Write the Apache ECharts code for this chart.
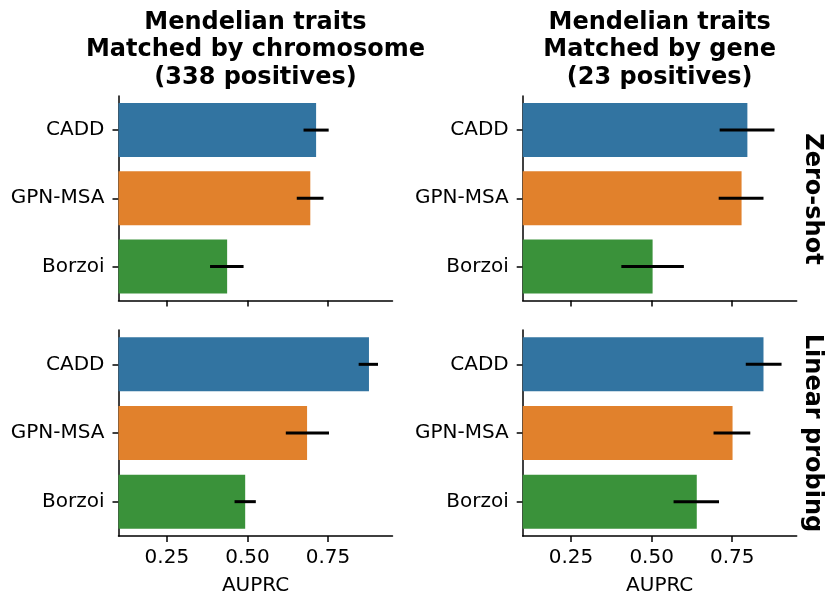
<!DOCTYPE html>
<html>
<head>
<meta charset="utf-8">
<script src="https://cdn.jsdelivr.net/npm/echarts@6/dist/echarts.min.js"></script>
<style>html,body{margin:0;padding:0;background:#fff;}#c{width:828px;height:597px;}</style>
</head>
<body>
<div id="c"></div>
<script>
// ---- data ----
const models = ['CADD', 'GPN-MSA', 'Borzoi'];
const colors = ['#3274a1', '#e1812c', '#3a923a'];
const xTicks = [0.25, 0.5, 0.75];
const colTitles = [
  'Mendelian traits\nMatched by chromosome\n(338 positives)',
  'Mendelian traits\nMatched by gene\n(23 positives)'
];
const rowTitles = ['Zero-shot', 'Linear probing'];
// panel order: [zero-shot chrom, zero-shot gene, linear chrom, linear gene]
const zsChromVal = [0.713, 0.695, 0.437];
const zsChromLo  = [0.674, 0.653, 0.384];
const zsChromHi  = [0.752, 0.736, 0.488];
const zsGeneVal  = [0.797, 0.779, 0.503];
const zsGeneLo   = [0.711, 0.708, 0.406];
const zsGeneHi   = [0.881, 0.847, 0.600];
const lpChromVal = [0.877, 0.685, 0.493];
const lpChromLo  = [0.845, 0.619, 0.460];
const lpChromHi  = [0.905, 0.753, 0.526];
const lpGeneVal  = [0.847, 0.751, 0.640];
const lpGeneLo   = [0.792, 0.692, 0.568];
const lpGeneHi   = [0.903, 0.806, 0.709];

const panels = [
  {val: zsChromVal, lo: zsChromLo, hi: zsChromHi},
  {val: zsGeneVal, lo: zsGeneLo, hi: zsGeneHi},
  {val: lpChromVal, lo: lpChromLo, hi: lpChromHi},
  {val: lpGeneVal, lo: lpGeneLo, hi: lpGeneHi}
];

const FONT = 'DejaVu Sans';
const lefts = [118.5, 522.7];
const W = 274;
const tops = [96, 330];
const heights = [204.5, 206];

const grids = [], xAxes = [], yAxes = [], series = [];
panels.forEach((p, i) => {
  const r = Math.floor(i / 2), c = i % 2;
  grids.push({left: lefts[c], top: tops[r], width: W, height: heights[r], containLabel: false});
  xAxes.push({
    type: 'value', gridIndex: i, min: 0.1, max: 0.95,
    axisLine: {show: true, lineStyle: {color: '#000', width: 1.5}},
    axisTick: {show: true, length: 6, lineStyle: {color: '#000', width: 1.5}, customValues: xTicks},
    axisLabel: {show: r === 1, color: '#000', fontSize: 20, fontFamily: FONT, margin: 12,
      customValues: xTicks, formatter: v => v.toFixed(2)},
    splitLine: {show: false}
  });
  yAxes.push({
    type: 'category', gridIndex: i, data: models, inverse: true,
    axisLine: {show: true, lineStyle: {color: '#000', width: 1.5}},
    axisTick: {show: true, alignWithLabel: true, length: 6, lineStyle: {color: '#000', width: 1.5}},
    axisLabel: {color: '#000', fontSize: 20, fontFamily: FONT, margin: 14},
    splitLine: {show: false}
  });
  series.push({
    type: 'bar', xAxisIndex: i, yAxisIndex: i, barWidth: 54, clip: true,
    data: p.val.map((v, k) => ({value: v, itemStyle: {color: colors[k]}})),
    silent: true, animation: false
  });
  series.push({
    type: 'custom', xAxisIndex: i, yAxisIndex: i, silent: true, animation: false, z: 5,
    data: p.lo.map((lo, k) => [lo, p.hi[k], k]),
    renderItem: (params, api) => {
      const a = api.coord([api.value(0), api.value(2)]);
      const b = api.coord([api.value(1), api.value(2)]);
      return {type: 'line', shape: {x1: a[0], y1: a[1], x2: b[0], y2: b[1]},
        style: {stroke: '#000', lineWidth: 3}};
    }
  });
});

const graphics = [];
colTitles.forEach((t, c) => {
  graphics.push({type: 'text', x: lefts[c] + W / 2, y: 9,
    style: {text: t, font: 'bold 24px "DejaVu Sans"', fill: '#000', align: 'center',
      verticalAlign: 'top', lineHeight: 27.5}});
  graphics.push({type: 'text', x: lefts[c] + W / 2, y: 586,
    style: {text: 'AUPRC', font: '20px "DejaVu Sans"', fill: '#000', align: 'center', verticalAlign: 'middle'}});
});
const rowCenters = [199, 433];
rowTitles.forEach((t, r) => {
  graphics.push({type: 'text', x: 812, y: rowCenters[r], rotation: -Math.PI / 2,
    style: {text: t, font: 'bold 24px "DejaVu Sans"', fill: '#000', align: 'center', verticalAlign: 'middle'}});
});

const chart = echarts.init(document.getElementById('c'), null, {renderer: 'canvas'});
chart.setOption({
  animation: false,
  backgroundColor: '#fff',
  grid: grids, xAxis: xAxes, yAxis: yAxes, series: series,
  graphic: graphics
});
</script>
</body>
</html>
